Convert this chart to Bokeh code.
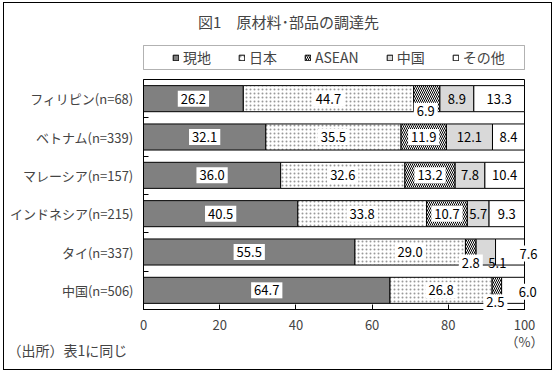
from bokeh.plotting import figure
from bokeh.models import (Range1d, FixedTicker, Label, Legend, LegendItem, BoxAnnotation)
from bokeh.embed import file_html
from bokeh.resources import INLINE

# ---- data ----
categories = ["フィリピン(n=68)", "ベトナム(n=339)", "マレーシア(n=157)",
              "インドネシア(n=215)", "タイ(n=337)", "中国(n=506)"]
series_names = ["現地", "日本", "ASEAN", "中国", "その他"]
local = [26.2, 32.1, 36.0, 40.5, 55.5, 64.7]
japan = [44.7, 35.5, 32.6, 33.8, 29.0, 26.8]
asean = [6.9, 11.9, 13.2, 10.7, 2.8, 2.5]
china = [8.9, 12.1, 7.8, 5.7, 5.1, 0.0]
other = [13.3, 8.4, 10.4, 9.3, 7.6, 6.0]
x_ticks = [0, 20, 40, 60, 80, 100]
x_max = 100
title_text = "図1\u3000原材料･部品の調達先"
source_text = "（出所）表1に同じ"
unit_text = "（%）"

FONT = "Noto Sans CJK JP"
series = [local, japan, asean, china, other]
n = len(categories)
ys = [n - i - 0.5 for i in range(n)]

# layout (pixels)
PLOT_W, PLOT_H = 381, 230          # bar drawing area
EXTRA_LEFT, EXTRA_RIGHT, EXTRA_TOP, EXTRA_BOTTOM = 139, 23, 72, 62
x_start = -x_max * EXTRA_LEFT / PLOT_W
x_end = x_max * (PLOT_W + EXTRA_RIGHT) / PLOT_W
y_end = n * (PLOT_H + EXTRA_TOP) / PLOT_H
y_start = -n * EXTRA_BOTTOM / PLOT_H
L, B = EXTRA_LEFT, EXTRA_BOTTOM   # screen offset of the bar area inside the frame

seg_styles = [
    dict(fill_color="#808080"),
    dict(fill_color="white", hatch_pattern="dot", hatch_scale=4, hatch_alpha=0.4, hatch_color="black"),
    dict(fill_color="white", hatch_pattern="left_diagonal_line", hatch_scale=4, hatch_weight=1, hatch_color="black"),
    dict(fill_color="#d9d9d9"),
    dict(fill_color="white"),
]
label_bg = ["white", "white", "white", None, "white"]
# pixel shifts (dx right, dy down) for labels of narrow segments
label_shift = {(0, 2): (-1, 12), (4, 2): (0, 10.5), (4, 3): (11.5, 10.5),
               (4, 4): (18.5, 1.5), (5, 2): (-1.5, 12), (5, 4): (14.7, 1.3)}

p = figure(width=549, height=368, x_range=Range1d(x_start, x_end), y_range=Range1d(y_start, y_end),
           output_backend="svg", toolbar_location=None, title=None,
           min_border_left=0, min_border_right=6, min_border_top=4, min_border_bottom=0)
p.styles = {"border": "1px solid black", "margin-left": "3px", "margin-top": "2px"}
p.background_fill_color = "white"
p.border_fill_color = "white"
p.outline_line_color = None
p.xgrid.visible = False
p.ygrid.visible = False

# plot-area border
p.quad(left=0, right=x_max, bottom=0, top=n, fill_color=None, line_color="black",
       line_width=1, level="underlay")

# bars
renderers = []
lefts = [0.0] * n
for k, vals in enumerate(series):
    ys_k, l_k, r_k = [], [], []
    for i in range(n):
        if vals[i] > 0:
            ys_k.append(ys[i]); l_k.append(lefts[i]); r_k.append(lefts[i] + vals[i])
    r = p.hbar(y=ys_k, left=l_k, right=r_k, height=0.68, line_color="black", line_width=1,
               **seg_styles[k])
    renderers.append(r)
    for i in range(n):
        v = vals[i]
        if v <= 0:
            continue
        dx, dy = label_shift.get((i, k), (0, 0))
        lab = Label(x=lefts[i] + v / 2, y=ys[i], text=f"{v:.1f}",
                    text_align="center", text_baseline="middle",
                    text_font=FONT, text_font_size="13px", text_color="black",
                    x_offset=dx, y_offset=-dy, padding=3,
                    background_fill_color=label_bg[k])
        p.add_layout(lab)
    lefts = [lefts[i] + vals[i] for i in range(n)]

# axes
p.xaxis.fixed_location = 0
p.xaxis.ticker = FixedTicker(ticks=x_ticks, minor_ticks=[])
p.xaxis.bounds = (0, x_max)
p.xaxis.major_tick_in = 5
p.xaxis.major_tick_out = 0
p.xaxis.minor_tick_in = 0
p.xaxis.minor_tick_out = 0
p.xaxis.major_label_standoff = 10
p.xaxis.major_label_text_font = FONT
p.xaxis.major_label_text_font_size = "13px"
p.xaxis.axis_line_color = "black"

p.yaxis.fixed_location = 0
p.yaxis.ticker = FixedTicker(ticks=ys, minor_ticks=list(range(1, n)))
p.yaxis.bounds = (0, n)
p.yaxis.major_label_overrides = {y: c for y, c in zip(ys, categories)}
p.yaxis.major_tick_in = 0
p.yaxis.major_tick_out = 0
p.yaxis.minor_tick_in = 5
p.yaxis.minor_tick_out = 0
p.yaxis.major_label_standoff = 10
p.yaxis.major_label_text_font = FONT
p.yaxis.major_label_text_font_size = "13px"
p.yaxis.axis_line_color = "black"

# legend
legend = Legend(items=[LegendItem(label=nm, renderers=[r]) for nm, r in zip(series_names, renderers)],
                orientation="horizontal", location=(L + 29, B + 242), padding=0, margin=0,
                spacing=27, label_standoff=4, glyph_width=7, glyph_height=7,
                label_height=20, label_text_font=FONT, label_text_font_size="14px",
                label_text_baseline="middle",
                border_line_alpha=0, background_fill_alpha=0)
p.add_layout(legend, "center")

box = BoxAnnotation(left=L, right=L + PLOT_W, top=B + 264, bottom=B + 240,
                    left_units="screen", right_units="screen",
                    top_units="screen", bottom_units="screen",
                    fill_alpha=0, line_color="black", line_width=1)
p.add_layout(box)

p.add_layout(Label(x=L + 145, y=B + 288, x_units="screen", y_units="screen", text=title_text,
                   text_align="center", text_baseline="middle", text_font=FONT,
                   text_font_size="15px"))
p.add_layout(Label(x=L - 136, y=B - 40, x_units="screen", y_units="screen", text=source_text,
                   text_align="left", text_baseline="middle", text_font=FONT,
                   text_font_size="14px"))
p.add_layout(Label(x=x_max, y=B - 32, x_units="data", y_units="screen", text=unit_text,
                   text_align="center", text_baseline="middle", text_font=FONT,
                   text_font_size="13px"))

open("out.html", "w").write(file_html(p, INLINE))
